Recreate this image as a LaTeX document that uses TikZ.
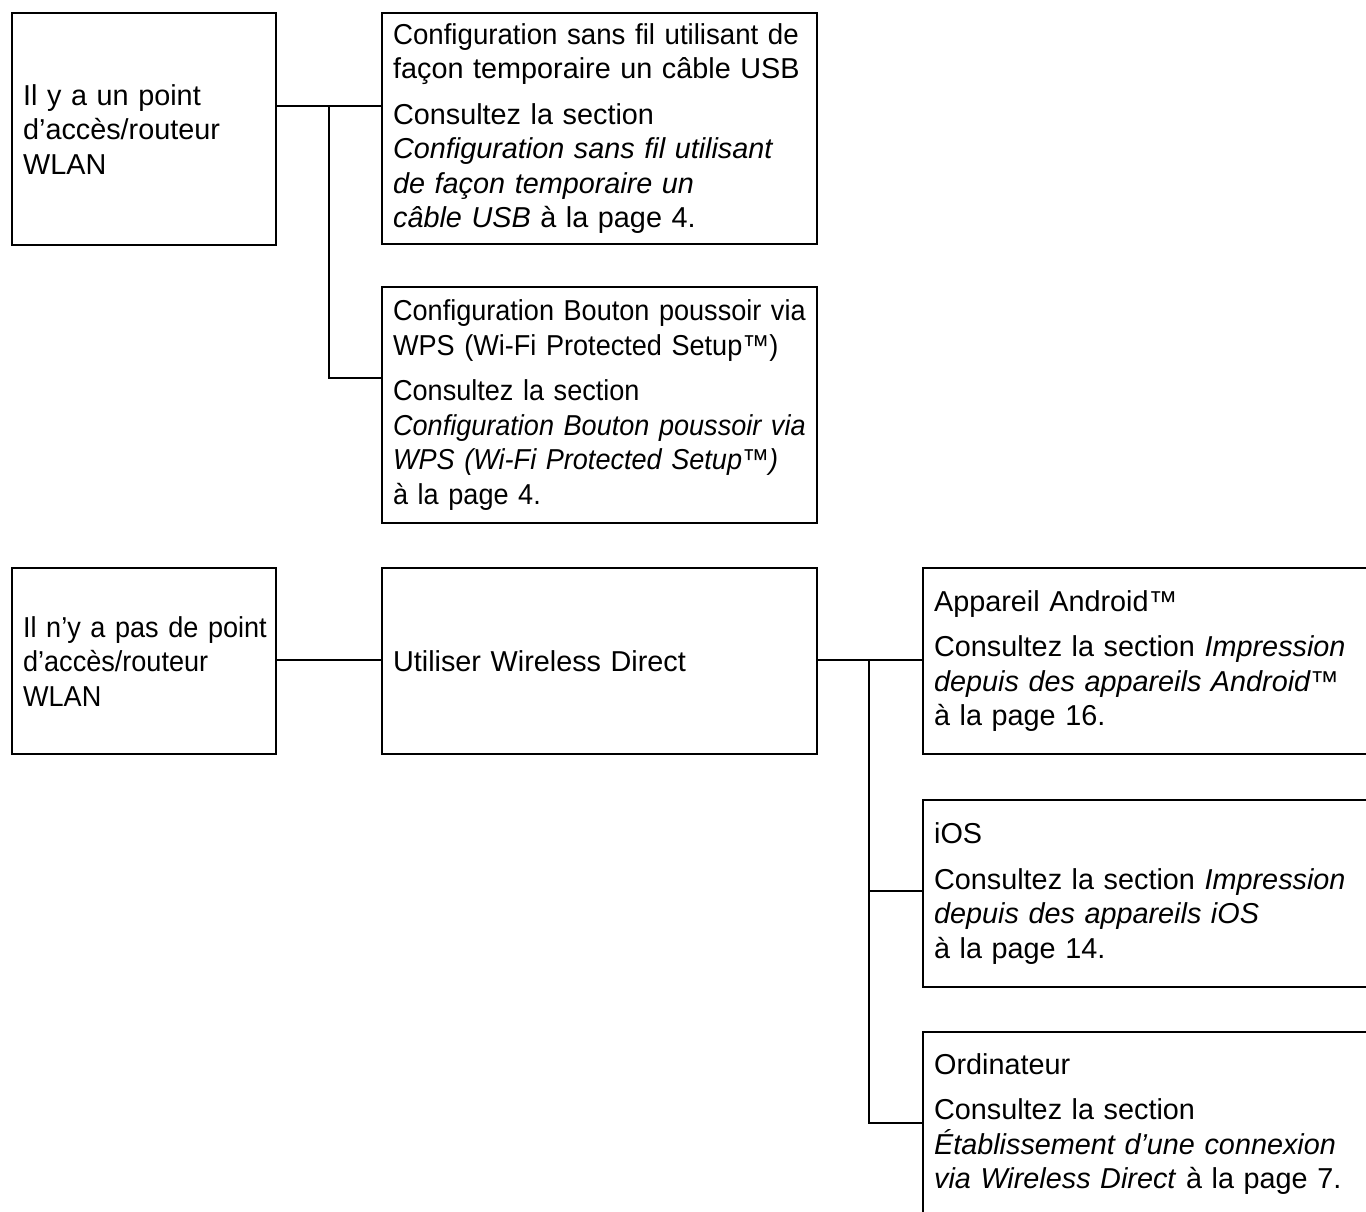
\documentclass[tikz,border=0pt]{standalone}
\usepackage{fontspec}
\setmainfont{Liberation Sans}
\newfontfamily\narrowfont{Liberation Sans}[FakeStretch=0.94,WordSpace=0.7]
\newfontfamily\semifont{Liberation Sans}[FakeStretch=0.96]
\begin{document}
\begin{tikzpicture}[x=1pt,y=1pt]
\tikzset{
  bx/.style={draw, line width=2.2pt, rectangle, anchor=north west, inner xsep=11pt,
    inner ysep=0pt, align=left, font=\fontsize{28.8}{34.5}\selectfont},
  ln/.style={line width=2.2pt},
}
\useasboundingbox (0,0) rectangle (1366,-1211);
\clip (0,0) rectangle (1366,-1211);

\node[bx, text width=242pt, minimum height=232pt] (A) at (11,-12)
  {Il y a un point\\ d’accès/routeur\\ WLAN};
\node[bx, text width=413pt, minimum height=231pt] (B1) at (381,-12)
  {\mbox{\semifont Configuration sans fil utilisant de}\\ façon temporaire un câble USB\\[11pt]
   Consultez la section\\ \textit{Configuration sans fil utilisant}\\
   \textit{de façon temporaire un}\\ \textit{câble USB} à la page 4.};
\node[bx, text width=413pt, minimum height=236pt] (B2) at (381,-286)
  {\narrowfont \mbox{Configuration Bouton poussoir via}\\ WPS (Wi-Fi Protected Setup™)\\[11pt]
   Consultez la section\\ \mbox{\textit{Configuration Bouton poussoir via}}\\
   \textit{WPS (Wi-Fi Protected Setup™)}\\ à la page 4.};

\node[bx, text width=242pt, minimum height=186pt] (C) at (11,-567)
  {\narrowfont \mbox{Il n’y a pas de point}\\ d’accès/routeur\\ WLAN};
\node[bx, text width=413pt, minimum height=186pt] (D) at (381,-567)
  {Utiliser Wireless Direct};

\node[bx, text width=428pt, minimum height=186pt] (E1) at (922,-567)
  {Appareil Android™\\[11pt] Consultez la section \textit{Impression}\\
   \textit{depuis des appareils Android™}\\ à la page 16.};
\node[bx, text width=428pt, minimum height=187pt] (E2) at (922,-799)
  {iOS\\[11pt] Consultez la section \textit{Impression}\\
   \textit{depuis des appareils iOS}\\ à la page 14.};
\node[bx, text width=428pt, minimum height=184pt] (E3) at (922,-1031)
  {Ordinateur\\[11pt] Consultez la section\\
   \textit{Établissement d’une connexion}\\ \textit{via Wireless Direct} à la page 7.};

\coordinate (jA) at (329,-106);
\coordinate (jB) at (329,-378);
\coordinate (jC) at (329,-660);
\coordinate (jD) at (869,-660);
\coordinate (jE2) at (869,-891);
\coordinate (jE3) at (869,-1123);

\draw[ln] (A.east |- jA) -- (B1.west |- jA);
\draw[ln] (jA) -- (jB) -- (B2.west |- jB);
\draw[ln] (C.east |- jC) -- (D.west |- jC);
\draw[ln] (D.east |- jD) -- (E1.west |- jD);
\draw[ln] (jD) -- (jE3) -- (E3.west |- jE3);
\draw[ln] (jE2) -- (E2.west |- jE2);
\end{tikzpicture}
\end{document}
